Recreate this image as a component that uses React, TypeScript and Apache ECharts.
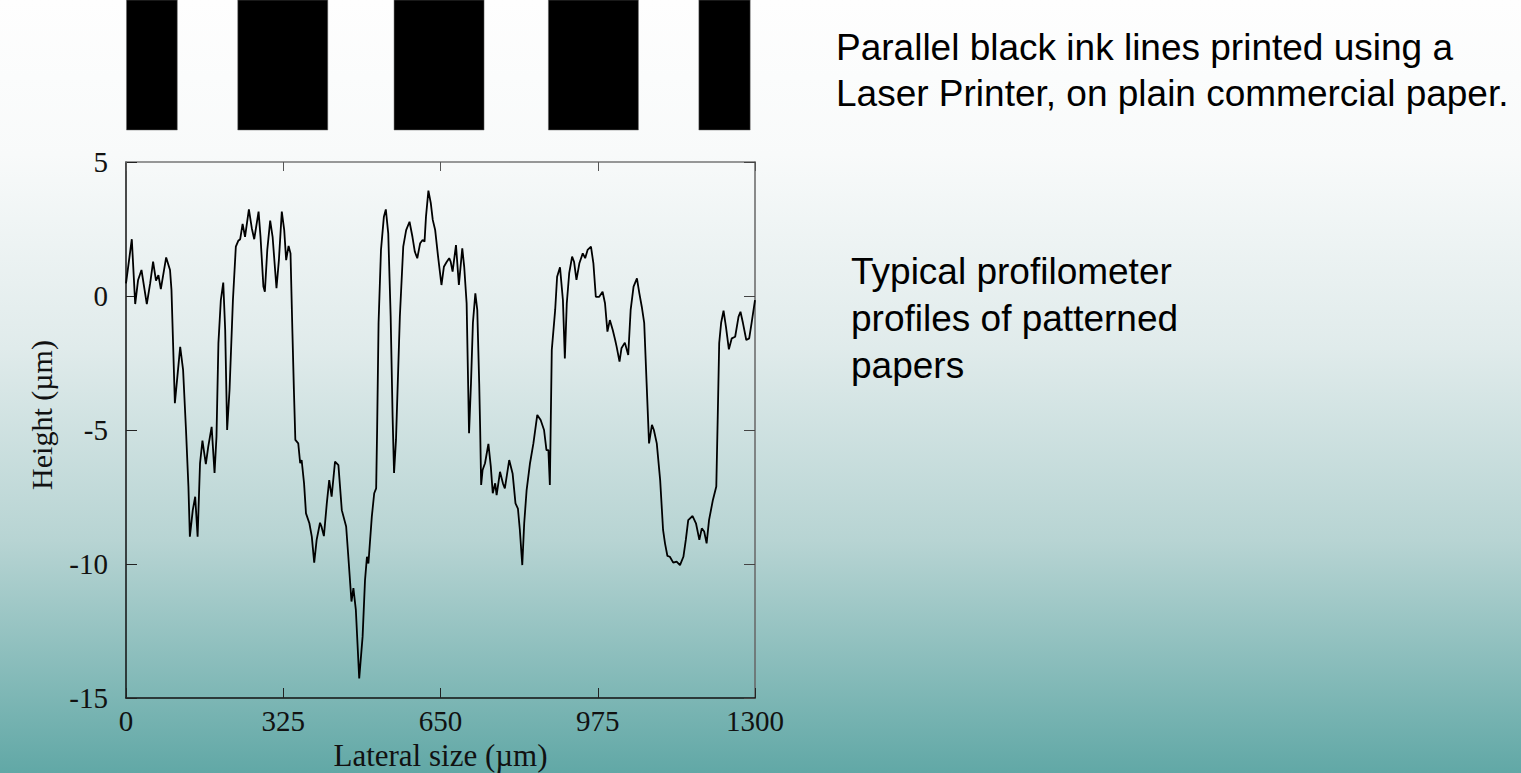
import React, { useEffect, useRef } from "react";
import * as echarts from "echarts";

const lateral = [0,12,19,25,32,43,50,56,62,67,72,83,91,94,101,112,118,124,129,132,138,143,148,153,158,165,170,177,183,187,191,196,201,205,209,214,221,227,232,236,241,246,254,260,265,274,278,284,287,292,298,303,311,316,322,327,331,336,340,344,347,350,356,360,363,368,372,379,384,389,394,401,404,409,415,420,425,432,439,446,455,459,466,470,475,482,489,494,498,501,508,513,517,519,522,527,533,537,542,547,551,554,558,566,573,579,586,592,597,602,608,613,617,620,625,630,634,639,645,652,657,663,668,671,675,682,688,695,699,704,709,713,717,722,726,730,732,734,737,742,749,754,758,763,766,773,779,783,792,799,805,810,814,819,823,828,835,842,850,857,864,869,873,876,880,887,891,897,903,907,911,916,922,926,931,937,944,949,954,961,966,971,978,985,990,995,1000,1006,1011,1014,1020,1024,1031,1038,1043,1049,1056,1061,1066,1071,1076,1081,1087,1091,1097,1104,1110,1114,1119,1124,1131,1138,1145,1152,1157,1162,1171,1178,1185,1190,1195,1200,1205,1213,1220,1223,1226,1230,1235,1240,1246,1252,1259,1266,1270,1275,1282,1288,1293,1300];

const height = [0.47,2.12,-0.3,0.6,0.97,-0.3,0.48,1.28,0.57,0.78,0.26,1.44,0.97,0.22,-4.0,-1.9,-2.76,-5.0,-7.1,-8.98,-7.99,-7.49,-8.98,-6.24,-5.4,-6.27,-5.62,-4.88,-6.6,-5.25,-1.76,-0.15,0.5,-1.27,-5.0,-3.5,-0.15,1.84,2.06,2.12,2.69,2.21,3.23,2.53,2.12,3.15,2.21,0.35,0.16,1.72,2.81,2.21,0.29,1.34,3.15,2.46,1.34,1.87,1.59,-1.39,-3.5,-5.37,-5.5,-6.24,-6.12,-6.99,-8.11,-8.48,-8.98,-9.95,-9.1,-8.46,-8.6,-8.96,-7.74,-6.87,-7.49,-6.18,-6.31,-7.99,-8.6,-9.6,-11.4,-10.9,-11.7,-14.27,-12.71,-10.6,-9.73,-9.98,-8.24,-7.36,-7.18,-5.0,-1.0,1.72,2.96,3.23,2.34,-0.77,-4.5,-6.6,-5.37,-0.77,1.84,2.46,2.77,2.21,1.65,1.41,1.97,2.09,2.03,2.96,3.93,3.46,2.84,2.46,1.47,0.41,1.09,1.28,1.41,1.28,0.91,1.9,0.41,1.78,1.09,-0.27,-5.12,-3.26,-1.0,0.1,-0.52,-3.26,-5.0,-7.05,-6.49,-6.24,-5.52,-6.37,-7.36,-6.99,-7.43,-6.56,-6.99,-7.18,-6.12,-6.62,-7.74,-7.93,-8.73,-10.04,-8.48,-7.24,-6.24,-5.5,-4.44,-4.63,-5.0,-5.75,-5.75,-7.05,-2.01,-0.52,0.72,1.07,-0.15,-2.33,-0.27,0.85,1.47,1.28,0.6,1.22,1.59,1.41,1.72,1.84,1.22,-0.03,-0.03,0.16,-0.27,-1.33,-0.9,-1.27,-1.64,-1.89,-2.45,-1.95,-1.74,-2.2,-0.52,0.35,0.66,0.1,-0.4,-1.0,-3.26,-5.5,-4.81,-5.0,-5.5,-6.87,-8.73,-9.23,-9.7,-9.73,-9.95,-9.91,-10.04,-9.73,-9.1,-8.36,-8.21,-8.48,-9.1,-8.67,-8.79,-9.23,-8.36,-7.61,-7.11,-4.5,-1.76,-1.0,-0.55,-1.15,-1.99,-1.58,-1.52,-0.77,-0.59,-1.0,-1.64,-1.58,-1.0,-0.15];

// printed ink line extents (µm along the same lateral axis)
const inkStart = [1, 231, 554, 873, 1184];
const inkEnd = [106, 417, 740, 1059, 1290];

const xTicks = { min: 0, max: 1300, interval: 325 };
const yTicks = { min: -15, max: 5, interval: 5 };

const headline = ["Parallel black ink lines printed using a", "Laser Printer, on plain commercial paper."];
const caption = ["Typical profilometer", "profiles of patterned", "papers"];

const SERIF = "'Liberation Serif', 'Times New Roman', serif";
const SANS = "'Liberation Sans', Arial, sans-serif";

export default function App() {
  const ref = useRef<HTMLDivElement>(null);
  useEffect(() => {
    if (!ref.current) return;
    const chart = echarts.init(ref.current, undefined, { renderer: "svg" });
    const profile = lateral.map((x, i) => [x, height[i]]);
    const ink = inkStart.map((s, i) => [s, inkEnd[i]]);
    const axisLabelStyle = { fontFamily: SERIF, fontSize: 29, color: "#111" };
    chart.setOption({
      animation: false,
      backgroundColor: new echarts.graphic.LinearGradient(0, 0, 0, 1, [
        { offset: 0, color: "#fefefe" },
        { offset: 0.2, color: "#f8fafa" },
        { offset: 0.45, color: "#e0ebeb" },
        { offset: 0.7, color: "#b7d4d3" },
        { offset: 1, color: "#61a8a6" },
      ]),
      grid: [
        { left: 126, top: 162, width: 629, height: 536, show: false, containLabel: false, outerBoundsMode: "none" },
        { left: 126, top: 0, width: 629, height: 130, show: false, containLabel: false, outerBoundsMode: "none" },
      ],
      xAxis: [
        {
          type: "value", gridIndex: 0, ...xTicks, position: "bottom",
          name: "Lateral size (µm)", nameLocation: "middle", nameGap: 39,
          nameTextStyle: { fontFamily: SERIF, fontSize: 31, color: "#111" },
          axisLine: { show: true, onZero: false, lineStyle: { color: "#111", width: 1.5 } },
          axisTick: { show: true, inside: true, length: 10, lineStyle: { color: "#222" } },
          axisLabel: { ...axisLabelStyle, margin: 8, formatter: (v: number) => String(v) },
          splitLine: { show: false },
        },
        {
          type: "value", gridIndex: 0, ...xTicks, position: "top",
          axisLine: { show: true, onZero: false, lineStyle: { color: "#777", width: 1.5 } },
          axisTick: { show: true, inside: true, length: 9, lineStyle: { color: "#555" } },
          axisLabel: { show: false },
          splitLine: { show: false },
        },
        {
          type: "value", gridIndex: 1, ...xTicks, show: false,
        },
      ],
      yAxis: [
        {
          type: "value", gridIndex: 0, ...yTicks, position: "left",
          name: "Height (µm)", nameLocation: "middle", nameGap: 70,
          nameTextStyle: { fontFamily: SERIF, fontSize: 30, color: "#111", padding: [0, 0, 0, 30] },
          axisLine: { show: true, onZero: false, lineStyle: { color: "#111", width: 1.5 } },
          axisTick: { show: true, inside: true, length: 11, lineStyle: { color: "#222" } },
          axisLabel: { ...axisLabelStyle, margin: 18 },
          splitLine: { show: false },
        },
        {
          type: "value", gridIndex: 0, ...yTicks, position: "right",
          axisLine: { show: true, onZero: false, lineStyle: { color: "#666", width: 1.5 } },
          axisTick: { show: true, inside: true, length: 11, lineStyle: { color: "#444" } },
          axisLabel: { show: false },
          splitLine: { show: false },
        },
        {
          type: "value", gridIndex: 1, min: 0, max: 1, show: false,
        },
      ],
      series: [
        {
          type: "line",
          xAxisIndex: 0,
          yAxisIndex: 0,
          data: profile,
          showSymbol: false,
          symbol: "none",
          lineStyle: { color: "#000", width: 1.8 },
          silent: true,
        },
        {
          type: "custom",
          xAxisIndex: 2,
          yAxisIndex: 2,
          data: ink,
          renderItem: (params: any, api: any) => {
            const p0 = api.coord([api.value(0), 1]);
            const p1 = api.coord([api.value(1), 0]);
            return {
              type: "rect",
              shape: { x: p0[0], y: p0[1], width: p1[0] - p0[0], height: p1[1] - p0[1] },
              style: { fill: "#000", stroke: "#666", lineWidth: 0.5 },
            };
          },
          silent: true,
        },
      ],
      graphic: [
        {
          type: "text", left: 836, top: 24,
          style: { text: headline.join("\n"), font: `37px ${SANS}`, fill: "#000", lineHeight: 46 },
        },
        {
          type: "text", left: 851, top: 248,
          style: { text: caption.join("\n"), font: `37px ${SANS}`, fill: "#000", lineHeight: 47 },
        },
      ],
    });
    return () => chart.dispose();
  }, []);
  return (
    <div
      ref={ref}
      style={{ position: "fixed", left: 0, top: 0, width: 1521, height: 773 }}
    />
  );
}
